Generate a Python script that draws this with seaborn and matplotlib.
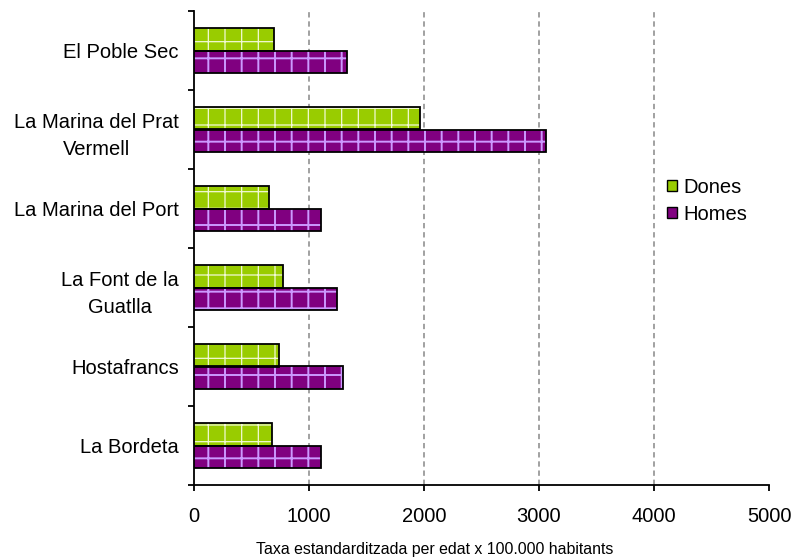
import matplotlib
matplotlib.use("Agg")
import matplotlib.pyplot as plt
import matplotlib.patches as mpatches
import seaborn as sns
import pandas as pd

categories = ["El Poble Sec", "La Marina del Prat\nVermell", "La Marina del Port",
              "La Font de la\nGuatlla", "Hostafrancs", "La Bordeta"]
dones = [692, 1968, 650, 777, 739, 675]
homes = [1328, 3061, 1102, 1241, 1293, 1104]
series = ["Dones", "Homes"]
xticks = [0, 1000, 2000, 3000, 4000, 5000]
xlabel = "Taxa estandarditzada per edat x 100.000 habitants"

colors = {"Dones": "#99CC00", "Homes": "#800080"}
hatchcols = {"Dones": "#F2F9D6", "Homes": "#CC99FF"}
hatchlw = {"Dones": 0.9, "Homes": 1.4}

df = pd.DataFrame({
    "cat": categories * 2,
    "val": dones + homes,
    "sexe": ["Dones"] * len(categories) + ["Homes"] * len(categories),
})

sns.set_theme(style="white")
plt.rcParams["font.family"] = ["Liberation Sans", "DejaVu Sans"]
plt.rcParams["text.color"] = "black"
plt.rcParams["axes.labelcolor"] = "black"
plt.rcParams["xtick.color"] = "black"
plt.rcParams["ytick.color"] = "black"
plt.rcParams["hatch.linewidth"] = 1.3

fig = plt.figure(figsize=(7.96, 5.6), dpi=100)
ax = fig.add_axes([194/796, 1 - 485/560, (769 - 194)/796, (485 - 11)/560])

sns.barplot(data=df, y="cat", x="val", hue="sexe", order=categories,
            hue_order=series, palette=colors, saturation=1, orient="h", width=0.58,
            gap=0, ax=ax, legend=False, zorder=3)

# style bars: hatch in light colour, then black outline on top
n = len(categories)
for i, p in enumerate(ax.patches[:2 * n]):
    s = series[i // n]
    p.set_hatch("+")
    p.set_edgecolor(hatchcols[s])
    p.set_linewidth(0)
    if hasattr(p, "set_hatch_linewidth"):
        p.set_hatch_linewidth(hatchlw[s])
    outline = mpatches.Rectangle(p.get_xy(), p.get_width(), p.get_height(),
                                 fill=False, edgecolor="black", linewidth=1.3,
                                 zorder=4)
    ax.add_patch(outline)

ax.set_xlim(0, 5000)
ax.set_ylim(n - 0.5, -0.5)
ax.set_xticks(xticks)
ax.set_xticklabels([str(t) for t in xticks])
ax.set_xlabel(xlabel, fontsize=11.4, labelpad=11.5)
ax.xaxis.label.set_x(0.419)
ax.set_ylabel("")

ax.xaxis.grid(True, color="#888888", linestyle=(0, (3.5, 2.5)), linewidth=1.1, zorder=0)
ax.set_axisbelow(True)
for gl, t in zip(ax.get_xgridlines(), xticks):
    if t in (0, 5000):
        gl.set_visible(False)

for side in ["top", "right"]:
    ax.spines[side].set_visible(False)
for side in ["left", "bottom"]:
    ax.spines[side].set_color("black")
    ax.spines[side].set_linewidth(1.3)

ax.tick_params(axis="x", which="major", direction="out", length=4.5, width=1.3,
               color="black", labelsize=14.5, pad=11.5, bottom=True)
ax.tick_params(axis="y", which="major", length=0, labelsize=14.5, pad=11)
ax.set_yticks([i - 0.5 for i in range(n + 1)], minor=True)
ax.tick_params(axis="y", which="minor", direction="out", length=4.5, width=1.3,
               color="black", left=True)
for lab in ax.get_yticklabels():
    lab.set_multialignment("center")
    lab.set_linespacing(1.55)

handles = [mpatches.Patch(facecolor=colors[s], edgecolor="black", linewidth=1.0, label=s)
           for s in series]
leg = ax.legend(handles=handles, loc="center left", bbox_to_anchor=(0.801, 0.600),
                fontsize=14.5, frameon=True, fancybox=False, framealpha=1,
                edgecolor="none", facecolor="white", handlelength=0.5,
                handleheight=0.5, handletextpad=0.35, labelspacing=0.4,
                borderpad=0.6, borderaxespad=0)
leg.set_zorder(5)

fig.savefig("out.png", dpi=100)
